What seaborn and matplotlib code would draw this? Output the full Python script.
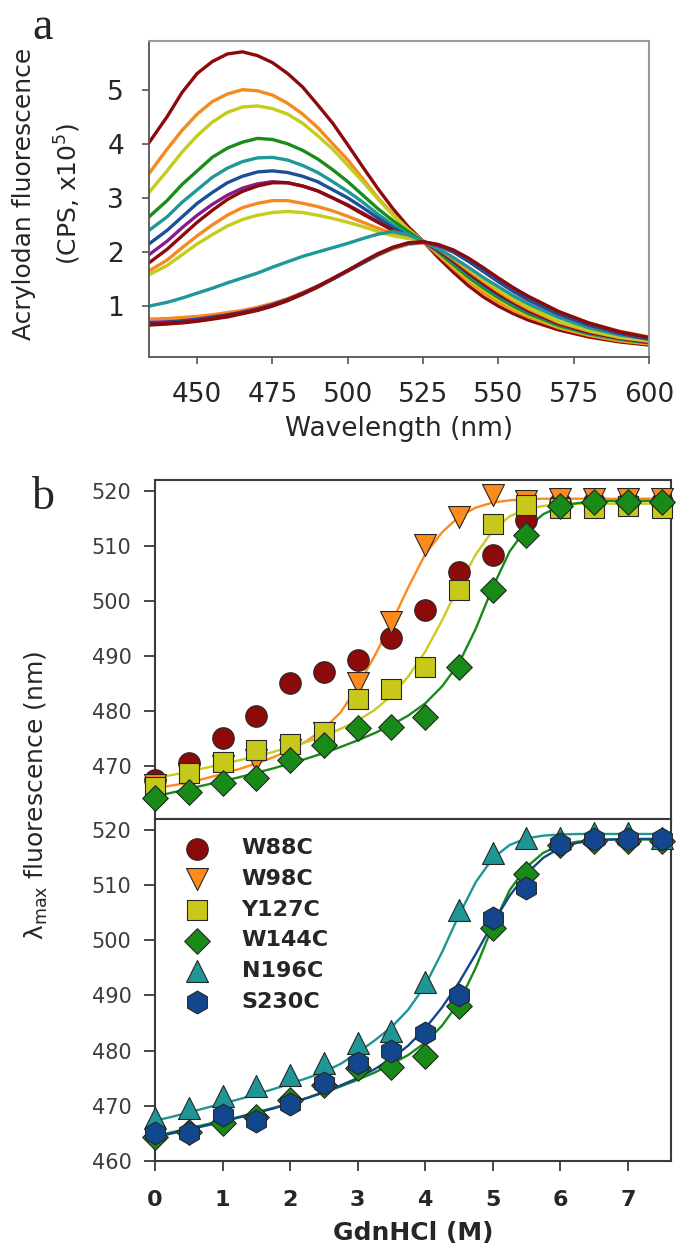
import matplotlib
matplotlib.use("Agg")
import matplotlib.pyplot as plt
import pandas as pd
import seaborn as sns

# ---------------- panel a: acrylodan emission spectra ----------------
wavelength = [434, 440, 445, 450, 455, 460, 465, 470, 475, 480,
              485, 490, 495, 500, 505, 510, 515, 520, 525, 530,
              535, 540, 545, 550, 555, 560, 570, 580, 590, 600]

spec_01 = [4.02, 4.5, 4.95, 5.3, 5.52, 5.66, 5.7, 5.63, 5.5, 5.3,
           5.05, 4.72, 4.38, 3.98, 3.57, 3.17, 2.8, 2.47, 2.2, 1.9,
           1.63, 1.38, 1.17, 1.0, 0.86, 0.74, 0.56, 0.43, 0.34, 0.28]
spec_02 = [3.45, 3.9, 4.25, 4.55, 4.78, 4.92, 5.0, 4.98, 4.9, 4.75,
           4.55, 4.3, 4.0, 3.7, 3.35, 3.0, 2.7, 2.42, 2.2, 1.95,
           1.7, 1.46, 1.25, 1.07, 0.92, 0.8, 0.6, 0.46, 0.36, 0.3]
spec_03 = [3.1, 3.5, 3.85, 4.15, 4.4, 4.58, 4.68, 4.7, 4.65, 4.55,
           4.38, 4.15, 3.9, 3.6, 3.3, 2.98, 2.68, 2.42, 2.2, 1.98,
           1.74, 1.5, 1.3, 1.12, 0.96, 0.83, 0.62, 0.48, 0.38, 0.31]
spec_04 = [2.65, 2.95, 3.25, 3.5, 3.75, 3.92, 4.03, 4.1, 4.08, 4.0,
           3.88, 3.72, 3.52, 3.3, 3.05, 2.8, 2.58, 2.38, 2.2, 2.0,
           1.77, 1.54, 1.34, 1.16, 1.0, 0.86, 0.64, 0.49, 0.39, 0.32]
spec_05 = [2.4, 2.65, 2.92, 3.15, 3.38, 3.55, 3.67, 3.74, 3.75, 3.7,
           3.6, 3.47, 3.3, 3.12, 2.92, 2.7, 2.5, 2.33, 2.2, 2.02,
           1.8, 1.58, 1.38, 1.19, 1.03, 0.89, 0.66, 0.5, 0.4, 0.33]
spec_06 = [2.15, 2.4, 2.65, 2.9, 3.1, 3.28, 3.4, 3.48, 3.5, 3.47,
           3.4, 3.3, 3.15, 3.0, 2.82, 2.63, 2.45, 2.3, 2.2, 2.03,
           1.82, 1.6, 1.4, 1.21, 1.05, 0.9, 0.67, 0.51, 0.41, 0.33]
spec_07 = [1.95, 2.2, 2.45, 2.68, 2.88, 3.05, 3.18, 3.26, 3.3, 3.28,
           3.22, 3.13, 3.0, 2.87, 2.72, 2.56, 2.4, 2.28, 2.2, 2.04,
           1.84, 1.62, 1.42, 1.23, 1.07, 0.92, 0.68, 0.52, 0.41, 0.34]
spec_08 = [1.8, 2.05, 2.3, 2.55, 2.77, 2.97, 3.12, 3.22, 3.28, 3.28,
           3.22, 3.13, 3.0, 2.86, 2.7, 2.55, 2.4, 2.28, 2.2, 2.04,
           1.84, 1.62, 1.42, 1.23, 1.07, 0.92, 0.68, 0.52, 0.41, 0.34]
spec_09 = [1.65, 1.85, 2.08, 2.3, 2.5, 2.68, 2.82, 2.9, 2.95, 2.95,
           2.9, 2.84, 2.76, 2.66, 2.55, 2.44, 2.34, 2.26, 2.2, 2.06,
           1.87, 1.66, 1.46, 1.27, 1.1, 0.95, 0.7, 0.54, 0.42, 0.35]
spec_10 = [1.58, 1.75, 1.95, 2.15, 2.32, 2.48, 2.6, 2.68, 2.73, 2.75,
           2.73, 2.68, 2.62, 2.55, 2.47, 2.38, 2.3, 2.25, 2.2, 2.08,
           1.9, 1.69, 1.49, 1.3, 1.13, 0.98, 0.72, 0.55, 0.43, 0.36]
spec_11 = [1.0, 1.07, 1.15, 1.24, 1.33, 1.43, 1.52, 1.61, 1.72, 1.82,
           1.92, 2.0, 2.08, 2.16, 2.25, 2.33, 2.38, 2.32, 2.2, 2.06,
           1.9, 1.72, 1.53, 1.36, 1.19, 1.04, 0.79, 0.6, 0.47, 0.39]
spec_12 = [0.65, 0.67, 0.69, 0.72, 0.76, 0.8, 0.86, 0.92, 1.0, 1.1,
           1.22, 1.35, 1.5, 1.65, 1.8, 1.95, 2.07, 2.15, 2.18, 2.13,
           2.02, 1.86, 1.67, 1.48, 1.3, 1.14, 0.87, 0.66, 0.51, 0.4]
spec_13 = [0.76, 0.77, 0.79, 0.81, 0.84, 0.88, 0.92, 0.98, 1.05, 1.14,
           1.25, 1.37, 1.51, 1.65, 1.8, 1.94, 2.06, 2.14, 2.17, 2.13,
           2.03, 1.88, 1.7, 1.51, 1.33, 1.17, 0.9, 0.69, 0.54, 0.43]
spec_14 = [0.7, 0.71, 0.73, 0.76, 0.8, 0.84, 0.89, 0.95, 1.03, 1.12,
           1.24, 1.37, 1.51, 1.66, 1.81, 1.96, 2.08, 2.16, 2.18, 2.12,
           2.0, 1.83, 1.64, 1.45, 1.27, 1.11, 0.85, 0.65, 0.5, 0.39]
spec_15 = [0.68, 0.7, 0.72, 0.75, 0.79, 0.83, 0.88, 0.94, 1.02, 1.12,
           1.23, 1.36, 1.5, 1.65, 1.8, 1.95, 2.08, 2.16, 2.19, 2.13,
           2.01, 1.84, 1.65, 1.46, 1.28, 1.12, 0.86, 0.66, 0.51, 0.4]
spec_16 = [0.66, 0.68, 0.7, 0.73, 0.77, 0.82, 0.87, 0.93, 1.01, 1.11,
           1.23, 1.36, 1.51, 1.66, 1.82, 1.97, 2.09, 2.17, 2.19, 2.14,
           2.04, 1.89, 1.71, 1.52, 1.34, 1.18, 0.9, 0.69, 0.53, 0.42]

DARKRED, ORANGE, YGREEN = "#8c0a0a", "#f58a1f", "#c4cc1c"
GREEN, TEAL, BLUE, PURPLE = "#1a8c1a", "#1e9898", "#1b4f96", "#8a1a8c"

spectra_list = [spec_01, spec_02, spec_03, spec_04, spec_05, spec_06, spec_07, spec_08,
                spec_09, spec_10, spec_11, spec_12, spec_13, spec_14, spec_15, spec_16]
spectra_colors = [DARKRED, ORANGE, YGREEN, GREEN, TEAL, BLUE, PURPLE, DARKRED,
                  ORANGE, YGREEN, TEAL, DARKRED, ORANGE, PURPLE, BLUE, DARKRED]

# ---------------- panel b: lambda max vs GdnHCl ----------------
gdn = [0, 0.5, 1, 1.5, 2, 2.5, 3, 3.5, 4, 4.5, 5, 5.5, 6, 6.5, 7, 7.5]
w88c = [467.5, 470.5, 475.2, 479.1, 485.2, 487.2, 489.3, 493.3,
        498.4, 505.3, 508.4, 514.7, 517.8, 518.0, 518.0, 518.0]
w98c = [466.5, 468.5, 470.0, 471.2, 473.0, 476.0, 485.1, 496.2,
        510.2, 515.3, 519.3, 518.2, 518.5, 518.5, 518.5, 518.5]
y127c = [466.2, 468.7, 470.8, 472.9, 474.1, 476.2, 482.2, 484.1,
         488.1, 502.1, 514.0, 517.5, 517.0, 517.0, 517.2, 517.0]
w144c = [464.3, 465.3, 466.9, 467.9, 471.1, 473.8, 476.9, 477.1,
         479.0, 488.1, 502.1, 512.0, 517.2, 518.0, 518.0, 518.0]
n196c = [467.8, 469.6, 471.7, 473.5, 475.6, 477.7, 481.4, 483.5,
         492.4, 505.5, 515.8, 518.5, 518.5, 519.3, 519.3, 518.5]
s230c = [465.1, 465.1, 468.4, 467.2, 470.3, 474.2, 477.8, 480.0,
         483.2, 490.1, 504.0, 509.4, 517.3, 518.2, 518.2, 518.2]

# fitted curves on a 0.25 M grid
gdn_fit = [0, 0.25, 0.5, 0.75, 1, 1.25, 1.5, 1.75, 2, 2.25, 2.5, 2.75, 3, 3.25, 3.5, 3.75,
           4, 4.25, 4.5, 4.75, 5, 5.25, 5.5, 5.75, 6, 6.25, 6.5, 6.75, 7, 7.25, 7.5]
fit_w98c = [466.0, 466.5, 467.0, 467.8, 468.6, 469.5, 470.5, 471.6, 473.0, 474.6, 476.8,
            479.8, 484.5, 490.0, 496.0, 502.5, 508.5, 512.5, 515.3, 517.0, 517.9, 518.3,
            518.5, 518.6, 518.6, 518.6, 518.6, 518.6, 518.6, 518.6, 518.6]
fit_y127c = [467.8, 468.4, 469.0, 469.7, 470.4, 471.1, 471.8, 472.6, 473.5, 474.4, 475.5,
             476.8, 478.3, 480.2, 482.8, 486.3, 490.8, 496.5, 502.8, 508.5, 512.8, 515.4,
             516.7, 517.3, 517.6, 517.7, 517.7, 517.7, 517.7, 517.7, 517.7]
fit_w144c = [464.5, 465.2, 465.9, 466.6, 467.3, 468.0, 468.8, 469.6, 470.5, 471.4, 472.4,
             473.5, 474.7, 476.0, 477.5, 479.2, 481.4, 484.5, 488.7, 495.0, 502.5, 509.0,
             513.2, 515.8, 517.2, 517.8, 518.1, 518.2, 518.2, 518.2, 518.2]
fit_n196c = [467.3, 468.0, 468.8, 469.6, 470.4, 471.2, 472.1, 473.0, 474.0, 475.0, 476.1,
             477.6, 479.6, 481.8, 484.2, 487.4, 491.8, 497.8, 504.5, 510.5, 514.8, 517.2,
             518.4, 518.9, 519.1, 519.2, 519.2, 519.2, 519.2, 519.2, 519.2]
fit_s230c = [464.3, 465.0, 465.7, 466.4, 467.1, 467.9, 468.7, 469.5, 470.4, 471.4, 472.5,
             473.7, 475.0, 476.6, 478.5, 480.9, 484.0, 487.8, 492.3, 497.5, 503.0, 508.0,
             512.0, 514.9, 516.7, 517.6, 518.0, 518.2, 518.3, 518.3, 518.3]

mutant_style = {
    "W88C": dict(marker="o", s=240, color=DARKRED),
    "W98C": dict(marker="v", s=250, color="#ff8a1c"),
    "Y127C": dict(marker="s", s=190, color="#c8c81a"),
    "W144C": dict(marker="D", s=170, color="#178a17"),
    "N196C": dict(marker="^", s=250, color="#1e9696"),
    "S230C": dict(marker="h", s=270, color="#12478e"),
}


def draw_points(ax, y, name, z):
    st = mutant_style[name]
    sns.scatterplot(x=gdn, y=y, ax=ax, marker=st["marker"], s=st["s"], color=st["color"],
                    edgecolor="#262626", linewidth=0.8, zorder=z, clip_on=False,
                    label=name, legend=False)


def draw_fit(ax, y, color):
    sns.lineplot(x=gdn_fit, y=y, ax=ax, color=color, lw=1.7, zorder=2)


def main():
    sns.set_theme(style="white")
    plt.rcParams["font.family"] = ["DejaVu Sans"]

    fig = plt.figure(figsize=(6.76, 12.51), dpi=100)
    ax_a = fig.add_axes([149 / 676, 1 - 357 / 1251, 500 / 676, 316 / 1251])
    ax_b1 = fig.add_axes([155 / 676, 1 - 818.5 / 1251, 516 / 676, 338.5 / 1251])
    ax_b2 = fig.add_axes([155 / 676, 1 - 1161 / 1251, 516 / 676, 342.5 / 1251])

    # ---- panel a
    rows = []
    for i, sp in enumerate(spectra_list):
        for wl, v in zip(wavelength, sp):
            rows.append((f"t{i:02d}", wl, v))
    spectra = pd.DataFrame(rows, columns=["trace", "wavelength", "cps"])
    sns.lineplot(data=spectra, x="wavelength", y="cps", hue="trace", palette=spectra_colors,
                 estimator=None, sort=False, lw=2.4, legend=False, ax=ax_a)
    ax_a.set_xlim(434, 600)
    ax_a.set_ylim(0.06, 5.9)
    ax_a.set_xticks([450, 475, 500, 525, 550, 575, 600])
    ax_a.set_yticks([1, 2, 3, 4, 5])
    ax_a.tick_params(axis="both", direction="out", length=5, width=1.2, color="#555555",
                     labelsize=19, pad=13, left=True, bottom=True)
    ax_a.set_xlabel("Wavelength (nm)", fontsize=19, labelpad=6)
    ax_a.set_ylabel("")
    for side in ["left", "bottom"]:
        ax_a.spines[side].set_color("#555555")
        ax_a.spines[side].set_linewidth(1.3)
    for side in ["top", "right"]:
        ax_a.spines[side].set_color("#9a9a9a")
        ax_a.spines[side].set_linewidth(1.5)
    fig.text(24 / 676, 1 - 194 / 1251, "Acrylodan fluorescence", rotation=90,
             fontsize=18, ha="center", va="center")
    fig.text(68 / 676, 1 - 194 / 1251, r"(CPS, x10$^{5}$)", rotation=90,
             fontsize=18, ha="center", va="center")
    fig.text(43 / 676, 1 - 28 / 1251, "a", family="Liberation Serif", fontsize=33,
             ha="center", va="center")

    # ---- panel b, top: W88C, W98C, Y127C, W144C
    draw_fit(ax_b1, fit_w98c, "#ff8a1c")
    draw_fit(ax_b1, fit_y127c, "#c8cc1e")
    draw_fit(ax_b1, fit_w144c, "#178a17")
    draw_points(ax_b1, w88c, "W88C", 3)
    draw_points(ax_b1, w98c, "W98C", 4)
    draw_points(ax_b1, y127c, "Y127C", 5)
    draw_points(ax_b1, w144c, "W144C", 6)

    # ---- panel b, bottom: W144C, N196C, S230C
    draw_fit(ax_b2, fit_w144c, "#178a17")
    draw_fit(ax_b2, fit_n196c, "#1e9696")
    draw_fit(ax_b2, fit_s230c, "#12478e")
    draw_points(ax_b2, w144c, "W144C", 3)
    draw_points(ax_b2, n196c, "N196C", 4)
    draw_points(ax_b2, s230c, "S230C", 5)

    for ax in (ax_b1, ax_b2):
        ax.set_xlim(0, 7.64)
        for side in ax.spines:
            ax.spines[side].set_color("#3a3a3a")
            ax.spines[side].set_linewidth(1.5)
        ax.set_xlabel("")
        ax.set_ylabel("")
    ax_b1.set_ylim(460.5, 522)
    ax_b1.set_yticks([470, 480, 490, 500, 510, 520])
    ax_b1.set_xticks([])
    ax_b2.set_ylim(460, 522)
    ax_b2.set_yticks([460, 470, 480, 490, 500, 510, 520])
    ax_b2.set_xticks([0, 1, 2, 3, 4, 5, 6, 7])
    for ax in (ax_b1, ax_b2):
        ax.tick_params(axis="y", direction="out", length=8, width=1.3, color="#3a3a3a",
                       labelsize=15, labelcolor="#3c3c3c", pad=9, left=True)
    ax_b2.tick_params(axis="x", direction="out", length=7, width=1.3, color="#3a3a3a",
                      labelsize=16, pad=14, bottom=True)
    for lab in ax_b2.get_xticklabels():
        lab.set_fontweight("bold")
    ax_b2.set_xlabel("GdnHCl (M)", fontsize=18, fontweight="bold", labelpad=8)

    # legend with all six mutants
    h1, l1 = ax_b1.get_legend_handles_labels()
    h2, l2 = ax_b2.get_legend_handles_labels()
    handles = {lab: h for h, lab in zip(h1 + h2, l1 + l2)}
    order = ["W88C", "W98C", "Y127C", "W144C", "N196C", "S230C"]
    ax_b2.legend([handles[k] for k in order], order, loc="upper left", frameon=False,
                 prop=dict(weight="bold", size=16), labelspacing=0.48, handletextpad=1.0,
                 borderaxespad=0.4, borderpad=0.5)

    fig.text(36 / 676, 1 - 795 / 1251, r"λ$_{\rm max}$ fluorescence (nm)", rotation=90,
             fontsize=18, ha="center", va="center")
    fig.text(43 / 676, 1 - 498 / 1251, "b", family="Liberation Serif", fontsize=33,
             ha="center", va="center")

    fig.savefig("out.png", dpi=100)


if __name__ == "__main__":
    main()
